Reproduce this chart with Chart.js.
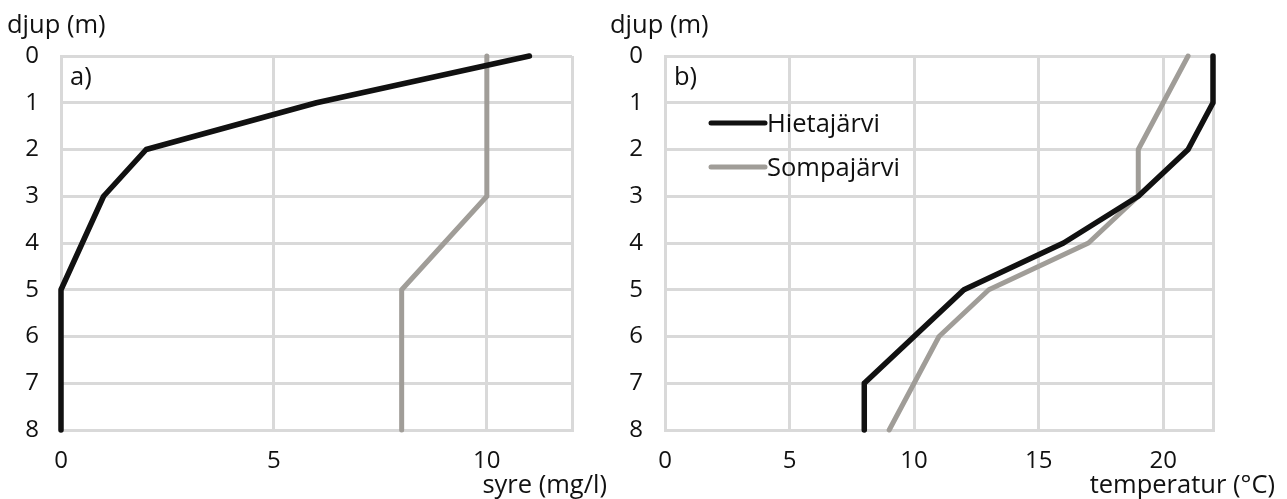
<!DOCTYPE html>
<html>
<head>
<meta charset="utf-8">
<script src="https://cdn.jsdelivr.net/npm/chart.js@4"></script>
<style>
html, body { margin: 0; background: #fff; }
.wrap { position: absolute; top: 0; height: 499px; }
#wa { left: 0; width: 630px; }
#wb { left: 600px; width: 687px; }
</style>
</head>
<body>
<div class="wrap" id="wa"><canvas id="ca" width="630" height="499"></canvas></div>
<div class="wrap" id="wb"><canvas id="cb" width="687" height="499"></canvas></div>
<script>
const depths = [0, 1, 2, 3, 4, 5, 6, 7, 8];
const lakes = ['Hietajärvi', 'Sompajärvi'];
// syre (mg/l)
const oxygenHieta = [11, 6, 2, 1, 0.5, 0, 0, 0, 0];
const oxygenSompa = [10, 10, 10, 10, 9, 8, 8, 8, 8];
// temperatur (°C)
const tempHieta = [22, 22, 21, 19, 16, 12, 10, 8, 8];
const tempSompa = [21, 20, 19, 19, 17, 13, 11, 10, 9];

const FONT = '"Open Sans", "Noto Sans", sans-serif';
const GRID = '#d9d9d9';
const colors = ['#111111', '#a09d98'];

const $ = s => document.querySelector(s);
const pts = vals => vals.map((v, i) => ({ x: v, y: depths[i] }));

const texts = {
    id: 'texts',
    afterDraw(chart, args, o) {
        const { ctx, chartArea: a } = chart;
        ctx.save();
        ctx.fillStyle = '#111';
        ctx.font = `25.5px ${FONT}`;
        ctx.textBaseline = 'alphabetic';
        ctx.textAlign = 'left';
        ctx.fillText('djup (m)', o.yTitleX, 33);
        ctx.fillText(o.panel, a.left + 9, a.top + 29);
        ctx.textAlign = 'right';
        ctx.fillText(o.xTitle, o.xTitleRight, 493);
        if (o.legend) {
            ctx.textAlign = 'left';
            chart.data.datasets.forEach((d, i) => {
                const y = a.top + 67 + i * 44;
                ctx.strokeStyle = d.borderColor;
                ctx.lineWidth = 5;
                ctx.lineCap = 'round';
                ctx.beginPath();
                ctx.moveTo(a.left + 46, y);
                ctx.lineTo(a.left + 100, y);
                ctx.stroke();
                ctx.fillText(d.label, a.left + 102, y + 9);
            });
        }
        ctx.restore();
    }
};

const makeChart = (canvas, series, xMax, yAxisW, padRight, o) => new Chart(canvas, {
    type: 'line',
    data: {
        datasets: series.map((s, i) => ({
            label: lakes[i],
            data: pts(s),
            borderColor: colors[i],
            borderWidth: i === 0 ? 5.5 : 5,
            borderCapStyle: 'round',
            borderJoinStyle: 'round',
            pointRadius: 0,
            tension: 0,
            fill: false,
            clip: false
        }))
    },
    options: {
        responsive: false,
        animation: false,
        layout: { padding: { left: 0, top: 56, right: padRight, bottom: 0 } },
        plugins: { legend: { display: false }, tooltip: { enabled: false }, texts: o },
        scales: {
            x: {
                type: 'linear', min: 0, max: xMax,
                grid: { color: GRID, lineWidth: 3, drawTicks: false },
                border: { color: GRID, width: 3 },
                ticks: {
                    stepSize: 5, autoSkip: false, maxRotation: 0, padding: 17,
                    color: '#111', font: { size: 24, family: FONT },
                    callback: v => v === xMax ? '' : v
                },
                afterFit: s => { s.height = 69; }
            },
            y: {
                type: 'linear', min: 0, max: 8, reverse: true,
                grid: { color: GRID, lineWidth: 3, drawTicks: false },
                border: { color: GRID, width: 3 },
                ticks: { stepSize: 1, padding: 22, color: '#111', font: { size: 24, family: FONT } },
                afterFit: s => { s.width = yAxisW; }
            }
        }
    },
    plugins: [texts]
});

makeChart($('#ca'), [oxygenHieta, oxygenSompa], 12, 61, 58,
    { panel: 'a)', xTitle: 'syre (mg/l)', xTitleRight: 607, yTitleX: 7, legend: false });
makeChart($('#cb'), [tempHieta, tempSompa], 22, 65, 74,
    { panel: 'b)', xTitle: 'temperatur (°C)', xTitleRight: 675, yTitleX: 10, legend: true });
</script>
</body>
</html>
